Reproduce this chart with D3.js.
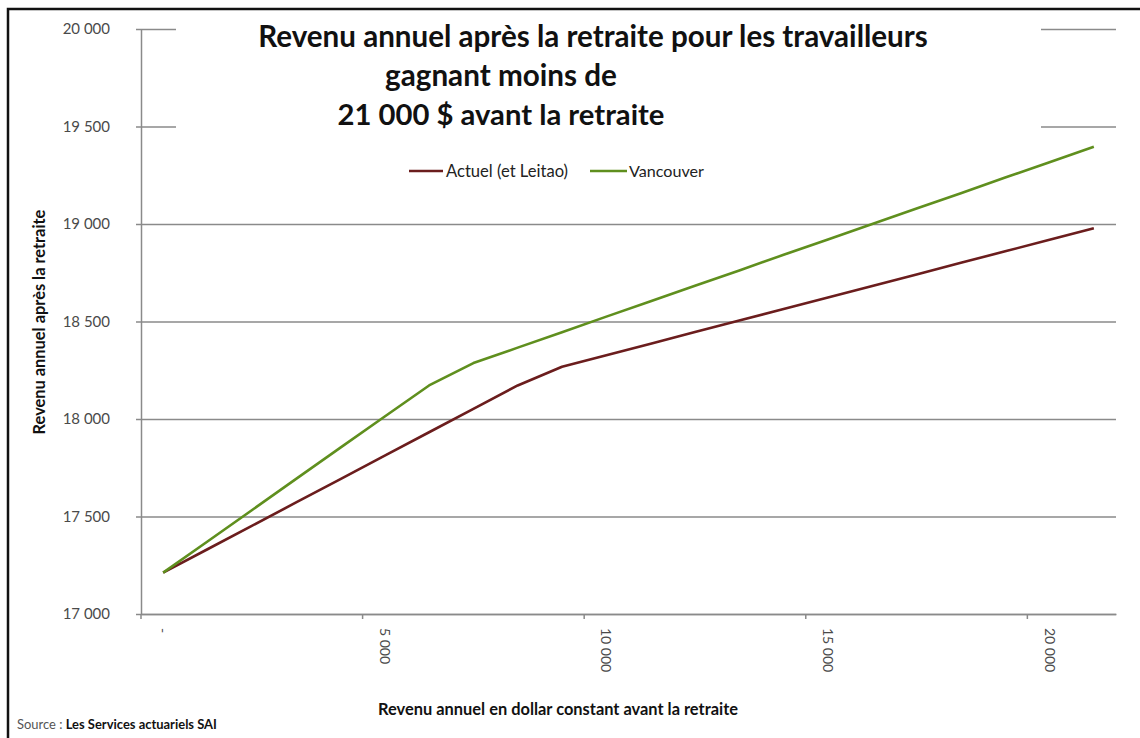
<!DOCTYPE html>
<html>
<head>
<meta charset="utf-8">
<script src="https://cdn.jsdelivr.net/npm/d3@7"></script>
<style>
  body { margin: 0; background: #fff; }
  svg { display: block; }
  text { font-family: Lato, "Open Sans", sans-serif; }
</style>
</head>
<body>
<div id="chart"></div>
<script>

// revenu avant la retraite (categories de l'axe x)
var categories = [0, 1000, 2000, 3000, 4000, 5000, 6000, 7000, 8000, 9000, 10000,
                  11000, 12000, 13000, 14000, 15000, 16000, 17000, 18000, 19000, 20000, 21000];

// revenu apres la retraite
var actuel = [17212, 17332, 17452, 17572, 17692, 17812, 17932, 18052, 18172, 18268, 18327,
              18386, 18446, 18505, 18564, 18623, 18682, 18741, 18801, 18860, 18919, 18978];
var vancouver = [17212, 17372, 17532, 17693, 17853, 18013, 18172, 18287, 18366, 18445, 18525,
                 18604, 18683, 18762, 18842, 18921, 19000, 19079, 19158, 19238, 19317, 19396];

var seriesNames = ["Actuel (et Leitao)", "Vancouver"];
var yTicks = [17000, 17500, 18000, 18500, 19000, 19500, 20000];
var xLabelCats = [0, 5000, 10000, 15000, 20000];
var titleLines = ["Revenu annuel après la retraite pour les travailleurs",
                  "gagnant moins de",
                  "21 000 $ avant la retraite"];

var colors = {actuel: "#6b1d1d", vancouver: "#5f8f1e"};

var width = 1140, height = 738;
var margin = {top: 29, right: 24, bottom: 124, left: 141};

var fr = d3.formatLocale({decimal: ",", thousands: " ", grouping: [3], currency: ["", " $"]});
var fmt = fr.format(",");

var svg = d3.select("#chart")
  .append("svg")
    .attr("width", width)
    .attr("height", height);

// helper : ajuste la taille de police pour que le texte ait la largeur voulue
function fit(sel, target) {
  var w = sel.node().getComputedTextLength();
  var fs = parseFloat(sel.attr("font-size"));
  sel.attr("font-size", fs * target / w);
}

var x = d3.scaleBand()
  .domain(categories)
  .range([margin.left, width - margin.right]);
var bw = x.bandwidth();
function cx(c) { return x(c) + bw / 2; }

var y = d3.scaleLinear()
  .domain([17000, 20000])
  .range([height - margin.bottom, margin.top]);

// gridlines
svg.append("g")
  .attr("transform", "translate(" + margin.left + ",0)")
  .call(d3.axisLeft(y).tickValues(yTicks).tickSize(-(width - margin.right - margin.left)).tickFormat(""))
  .call(g => g.select(".domain").remove())
  .call(g => g.selectAll(".tick line").attr("stroke", "#8a8a8a").attr("stroke-width", 1.5));

// title box hides the top gridlines
svg.append("rect")
  .attr("x", 176).attr("y", 14)
  .attr("width", 865).attr("height", 124)
  .attr("fill", "#fff");

// Y axis
svg.append("g")
  .attr("transform", "translate(" + margin.left + ",0)")
  .call(d3.axisLeft(y).tickValues(yTicks).tickSizeInner(5).tickSizeOuter(0).tickPadding(26).tickFormat(fmt))
  .call(g => g.select(".domain").attr("stroke", "#8a8a8a").attr("stroke-width", 1.5))
  .call(g => g.selectAll(".tick line").attr("stroke", "#8a8a8a").attr("stroke-width", 1.5))
  .call(g => g.selectAll(".tick text")
    .attr("font-size", 15)
    .attr("fill", "#4a4a4a")
    .attr("font-family", "Lato, sans-serif"));

// X axis: ticks between categories, labels at the category centre
svg.append("g")
  .attr("transform", "translate(0," + (height - margin.bottom) + ")")
  .call(d3.axisBottom(x).tickValues(xLabelCats).tickSizeInner(5).tickSizeOuter(0).tickFormat(""))
  .call(g => g.select(".domain").attr("stroke", "#8a8a8a").attr("stroke-width", 1.5))
  .call(g => g.selectAll(".tick line")
    .attr("transform", "translate(" + (-bw / 2) + ",0)")
    .attr("stroke", "#8a8a8a").attr("stroke-width", 1.5));

svg.append("g")
  .selectAll("text")
  .data(xLabelCats)
  .join("text")
    .attr("transform", d => "translate(" + cx(d) + "," + (height - margin.bottom + 14) + ") rotate(90)")
    .attr("dy", "0.35em")
    .attr("font-size", 14)
    .attr("fill", "#4a4a4a")
    .text(d => d === 0 ? "-" : fmt(d));

// lines
var line = d3.line()
  .x((d, i) => cx(categories[i]))
  .y(d => y(d));

svg.append("path")
  .datum(actuel)
  .attr("fill", "none")
  .attr("stroke", colors.actuel)
  .attr("stroke-width", 2.6)
  .attr("stroke-linejoin", "round")
  .attr("d", line);

svg.append("path")
  .datum(vancouver)
  .attr("fill", "none")
  .attr("stroke", colors.vancouver)
  .attr("stroke-width", 2.6)
  .attr("stroke-linejoin", "round")
  .attr("d", line);

// title
var titlePos = [[593, 47, 670], [501, 86, 232], [501, 125, 327]];
titleLines.forEach(function(t, i) {
  var p = titlePos[i];
  var tx = svg.append("text")
    .attr("x", p[0]).attr("y", p[1])
    .attr("text-anchor", "middle")
    .attr("font-size", 27)
    .attr("font-weight", "bold")
    .attr("fill", "#111")
    .text(t);
  fit(tx, p[2]);
});

// legend
var legend = [
  {name: seriesNames[0], color: colors.actuel, x1: 409, x2: 443, tx: 446, w: 122},
  {name: seriesNames[1], color: colors.vancouver, x1: 590, x2: 627, tx: 629, w: 75}
];
legend.forEach(function(l) {
  svg.append("line")
    .attr("x1", l.x1).attr("x2", l.x2)
    .attr("y1", 171).attr("y2", 171)
    .attr("stroke", l.color).attr("stroke-width", 2.6);
  var t = svg.append("text")
    .attr("x", l.tx).attr("y", 171)
    .attr("dy", "0.35em")
    .attr("font-size", 14)
    .attr("fill", "#222")
    .text(l.name);
  fit(t, l.w);
});

// axis titles
var yt = svg.append("text")
  .attr("transform", "translate(45,322) rotate(-90)")
  .attr("text-anchor", "middle")
  .attr("font-size", 13)
  .attr("font-weight", "bold")
  .attr("fill", "#111")
  .text("Revenu annuel après la retraite");
fit(yt, 225);

var xt = svg.append("text")
  .attr("x", 558).attr("y", 715)
  .attr("text-anchor", "middle")
  .attr("font-size", 13)
  .attr("font-weight", "bold")
  .attr("fill", "#111")
  .text("Revenu annuel en dollar constant avant la retraite");
fit(xt, 360);

// source
var src = svg.append("text")
  .attr("x", 17).attr("y", 729)
  .attr("font-size", 10)
  .attr("fill", "#555");
src.append("tspan").text("Source : ");
src.append("tspan").attr("font-weight", "bold").attr("fill", "#111").text("Les Services actuariels SAI");
fit(src, 200);

// frame
svg.append("rect")
  .attr("x", 8).attr("y", 9)
  .attr("width", 1200).attr("height", 800)
  .attr("fill", "none")
  .attr("stroke", "#111")
  .attr("stroke-width", 2.5);

</script>
</body>
</html>
